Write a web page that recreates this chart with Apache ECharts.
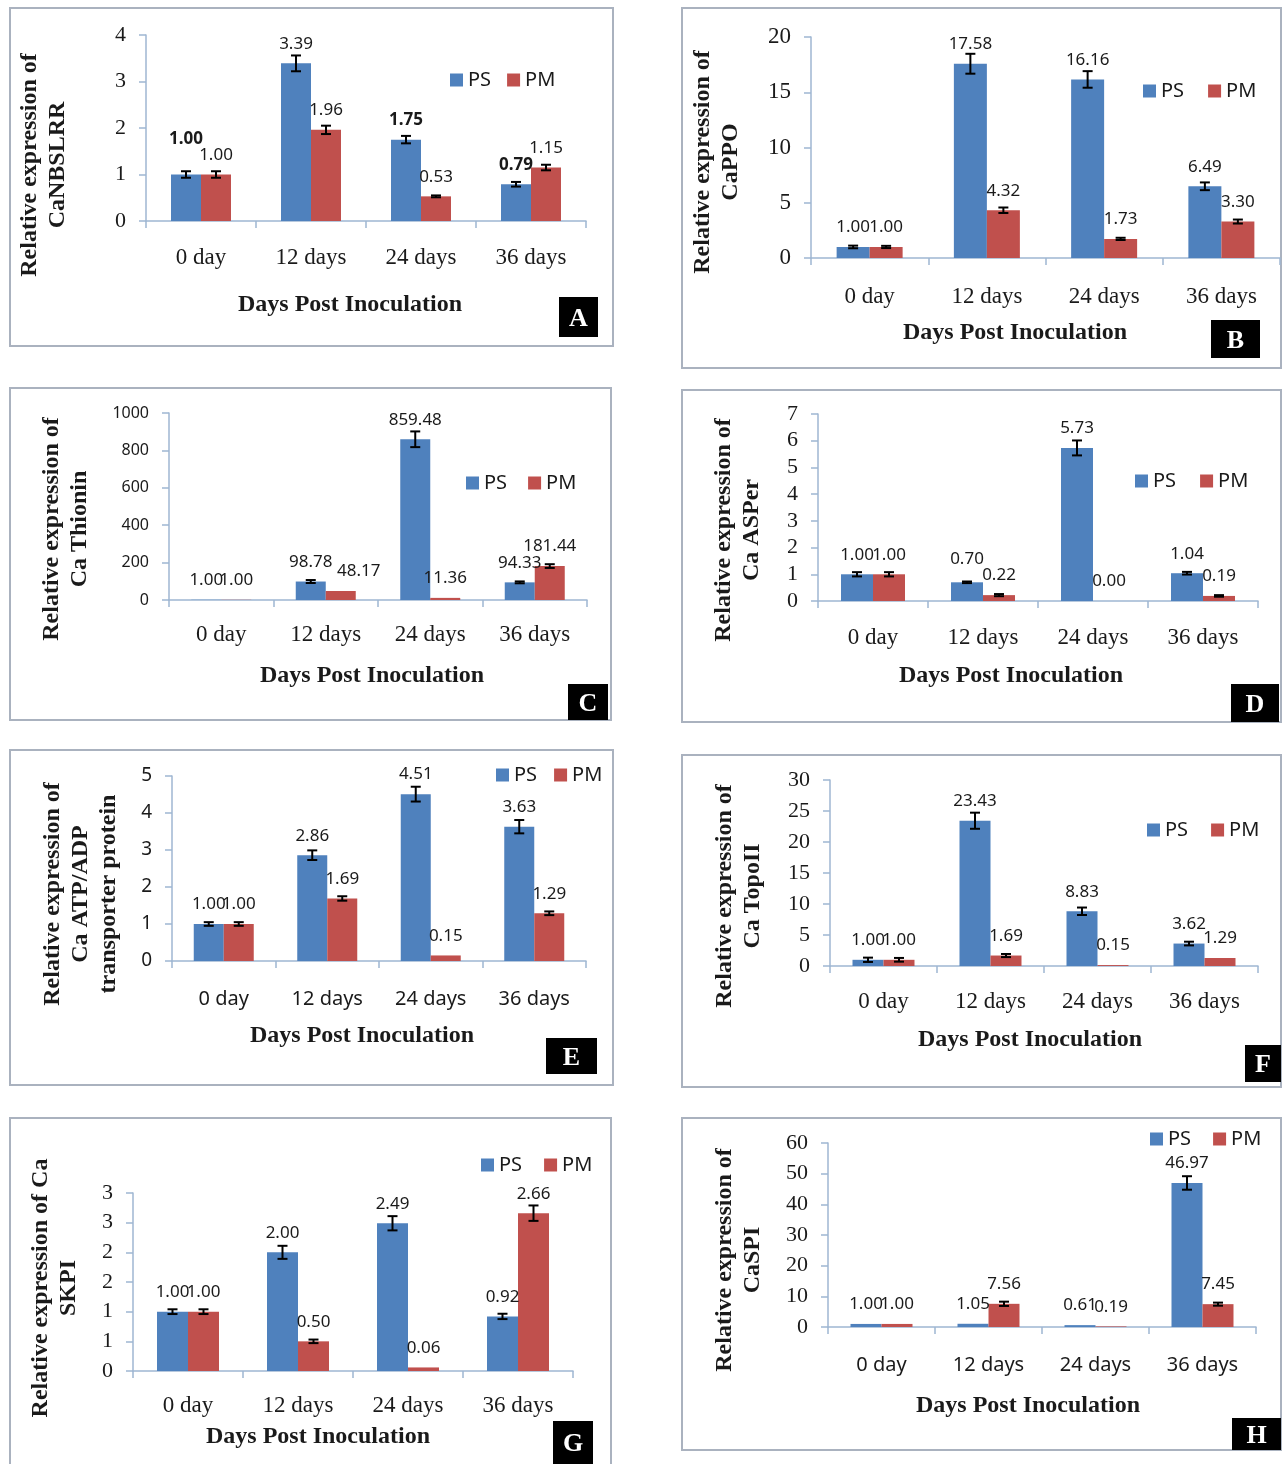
<!DOCTYPE html>
<html>
<head>
<meta charset="utf-8">
<script src="https://cdn.jsdelivr.net/npm/echarts@6/dist/echarts.min.js"></script>
<style>
html,body{margin:0;padding:0;background:#fff;}
#chart{width:1283px;height:1464px;}
</style>
</head>
<body>
<div id="chart"></div>
<script>
// ---------------- DATA ----------------
const categories = ['0 day', '12 days', '24 days', '36 days'];
const seriesNames = ['PS', 'PM'];

const psA = [1.00, 3.39, 1.75, 0.79];
const pmA = [1.00, 1.96, 0.53, 1.15];
const psErrA = [0.07, 0.17, 0.08, 0.05];
const pmErrA = [0.07, 0.09, 0.02, 0.06];

const psB = [1.00, 17.58, 16.16, 6.49];
const pmB = [1.00, 4.32, 1.73, 3.30];
const psErrB = [0.12, 0.9, 0.75, 0.35];
const pmErrB = [0.10, 0.25, 0.10, 0.18];

const psC = [1.00, 98.78, 859.48, 94.33];
const pmC = [1.00, 48.17, 11.36, 181.44];
const psErrC = [0, 8, 42, 5];
const pmErrC = [0, 0, 0, 10];

const psD = [1.00, 0.70, 5.73, 1.04];
const pmD = [1.00, 0.22, 0.00, 0.19];
const psErrD = [0.08, 0.03, 0.28, 0.05];
const pmErrD = [0.08, 0.04, 0, 0.03];

const psE = [1.00, 2.86, 4.51, 3.63];
const pmE = [1.00, 1.69, 0.15, 1.29];
const psErrE = [0.05, 0.13, 0.20, 0.18];
const pmErrE = [0.05, 0.06, 0, 0.05];

const psF = [1.00, 23.43, 8.83, 3.62];
const pmF = [1.00, 1.69, 0.15, 1.29];
const psErrF = [0.35, 1.3, 0.6, 0.3];
const pmErrF = [0.30, 0.25, 0, 0];

const psG = [1.00, 2.00, 2.49, 0.92];
const pmG = [1.00, 0.50, 0.06, 2.66];
const psErrG = [0.04, 0.11, 0.12, 0.045];
const pmErrG = [0.04, 0.03, 0, 0.13];

const psH = [1.00, 1.05, 0.61, 46.97];
const pmH = [1.00, 7.56, 0.19, 7.45];
const psErrH = [0, 0, 0, 2.2];
const pmErrH = [0, 0.7, 0, 0.5];

const xAxisTitle = 'Days Post Inoculation';
const yTitles = {
  A: 'Relative expression of\nCaNBSLRR',
  B: 'Relative expression of\nCaPPO',
  C: 'Relative expression of\nCa Thionin',
  D: 'Relative expression of\nCa ASPer',
  E: 'Relative expression of\nCa ATP/ADP\ntransporter protein',
  F: 'Relative expression of\nCa TopoII',
  G: 'Relative expression of Ca\nSKPI',
  H: 'Relative expression of\nCaSPI'
};
// y-axis scales (max, interval)
const yScales = {
  A: [4, 1], B: [20, 5], C: [1000, 200], D: [7, 1],
  E: [5, 1], F: [30, 5], G: [3, 0.5], H: [60, 10]
};

// ---------------- LAYOUT / STYLE ----------------
const SERIF = '"Liberation Serif", "Times New Roman", serif';
const SANS = '"Noto Sans", "Liberation Sans", sans-serif';
const BLUE = '#4f81bd';
const RED = '#c0504d';
const AXIS = '#9fb6d2';
const TXT = '#1a1a1a';

const layout = {
  A: {box:[10,8,603,338], grid:[146,35,440,186], bw:30, yFont:SERIF, yFs:22, xFont:SERIF, xFs:23, xm:25,
      legend:[450,80,16], title:[350,305], yT:[44,165], letter:[559,297,39,40]},
  B: {box:[682,8,599,360], grid:[811,37,469,221], bw:33, yFont:SERIF, yFs:23, xFont:SERIF, xFs:23, xm:27,
      legend:[1143,91,24], title:[1015,333], yT:[717,162], letter:[1211,320,49,38]},
  C: {box:[10,388,601,332], grid:[169,413,418,187], bw:30, yFont:SANS, yFs:16, xFont:SERIF, xFs:23, xm:23,
      legend:[466,483,21], title:[372,676], yT:[66,529], letter:[568,684,40,36]},
  D: {box:[682,390,599,332], grid:[818,414,440,187], bw:32, yFont:SERIF, yFs:22, xFont:SERIF, xFs:23, xm:25,
      legend:[1135,481,24], title:[1011,676], yT:[738,530], letter:[1231,684,48,38]},
  E: {box:[10,750,603,335], grid:[172,776,414,185], bw:30, yFont:SANS, yFs:19, xFont:SANS, xFs:20, xm:28,
      legend:[496,775,17], title:[362,1036], yT:[81,894], letter:[546,1038,51,36]},
  F: {box:[682,755,599,332], grid:[830,780,428,186], bw:31, yFont:SERIF, yFs:22, xFont:SERIF, xFs:23, xm:24,
      legend:[1147,830,23], title:[1030,1040], yT:[739,896], letter:[1245,1045,36,37]},
  G: {box:[10,1118,601,350], grid:[133,1193,440,178], bw:31, yFont:SERIF, yFs:22, xFont:SERIF, xFs:23, xm:23,
      legend:[481,1165,22], title:[318,1437], yT:[55,1288], letter:[553,1421,40,43]},
  H: {box:[682,1118,599,332], grid:[828,1143,428,184], bw:31, yFont:SERIF, yFs:22, xFont:SANS, xFs:20, xm:28,
      legend:[1150,1139,22], title:[1028,1406], yT:[739,1260], letter:[1232,1418,49,32]}
};

// special label styling
const labelTweaks = {
  A: {PS: {0: {fontWeight:'bold', distance:27}, 2: {fontWeight:'bold'}, 3: {fontWeight:'bold'}}},
  C: {PM: {1: {offset:[18, 0]}}},
  D: {PS: {1: {distance:15}}}
};

const panelData = {
  A: [psA, pmA, psErrA, pmErrA], B: [psB, pmB, psErrB, pmErrB],
  C: [psC, pmC, psErrC, pmErrC], D: [psD, pmD, psErrD, pmErrD],
  E: [psE, pmE, psErrE, pmErrE], F: [psF, pmF, psErrF, pmErrF],
  G: [psG, pmG, psErrG, pmErrG], H: [psH, pmH, psErrH, pmErrH]
};

// ---------------- BUILD ----------------
const grids = [], xAxes = [], yAxes = [], series = [], legends = [], graphics = [];

function errRender(sign, bw) {
  return function (params, api) {
    const i = api.value(0), v = api.value(1), e = api.value(2);
    if (!e) return null;
    const top = api.coord([i, v + e]);
    const bot = api.coord([i, v - e]);
    const x = top[0] + sign * bw / 2;
    const cap = 5;
    const st = {stroke:'#000', lineWidth:2};
    return {type:'group', children:[
      {type:'line', shape:{x1:x, y1:top[1], x2:x, y2:bot[1]}, style:st},
      {type:'line', shape:{x1:x-cap, y1:top[1], x2:x+cap, y2:top[1]}, style:st},
      {type:'line', shape:{x1:x-cap, y1:bot[1], x2:x+cap, y2:bot[1]}, style:st}
    ]};
  };
}

Object.keys(layout).forEach(function (key, idx) {
  const L = layout[key];
  const [ps, pm, psErr, pmErr] = panelData[key];
  const [ymax, yint] = yScales[key];

  // panel border
  graphics.push({type:'rect', shape:{x:L.box[0], y:L.box[1], width:L.box[2], height:L.box[3]},
    style:{fill:'#fff', stroke:'#aab2bf', lineWidth:2}, z:-10});

  grids.push({left:L.grid[0], top:L.grid[1], width:L.grid[2], height:L.grid[3], containLabel:false});

  xAxes.push({type:'category', gridIndex:idx, data:categories,
    axisLine:{lineStyle:{color:AXIS, width:1.5}},
    axisTick:{show:true, length:7, lineStyle:{color:AXIS, width:1.5}},
    axisLabel:{fontFamily:L.xFont, fontSize:L.xFs, color:TXT, margin:L.xm}
  });

  yAxes.push({type:'value', gridIndex:idx, min:0, max:ymax, interval:yint,
    splitLine:{show:false},
    axisLine:{show:true, lineStyle:{color:AXIS, width:1.5}},
    axisTick:{show:true, length:7, lineStyle:{color:AXIS, width:1.5}},
    axisLabel:{fontFamily:L.yFont, fontSize:L.yFs, color:TXT, margin:20,
      formatter: key === 'G' ? function (v) { return String(Math.round(v)); }
                             : function (v) { return String(v); }}
  });

  [[ps, psErr, BLUE, 'PS', -1], [pm, pmErr, RED, 'PM', 1]].forEach(function (s) {
    const [vals, errs, color, name, sign] = s;
    const tw = (labelTweaks[key] && labelTweaks[key][name]) || {};
    series.push({
      type:'bar', name:name, xAxisIndex:idx, yAxisIndex:idx,
      barWidth:L.bw, barGap:'0%',
      itemStyle:{color:color},
      data: vals.map(function (v, i) {
        return tw[i] ? {value:v, label:tw[i]} : v;
      }),
      label:{show:true, position:'top', distance:11, color:TXT,
        fontFamily:SANS, fontSize:17,
        formatter:function (p) { return Number(p.value).toFixed(2); }},
      z:2
    });
    series.push({
      type:'custom', name:name + ' error', xAxisIndex:idx, yAxisIndex:idx,
      renderItem: errRender(sign, L.bw),
      encode:{x:0, y:1},
      data: vals.map(function (v, i) { return [i, v, errs[i]]; }),
      z:5, silent:true
    });
  });

  // legend
  legends.push({
    data: seriesNames, orient:'horizontal', left:L.legend[0], top:L.legend[1] - 10,
    itemWidth:13, itemHeight:13, itemGap:L.legend[2], padding:0, icon:'rect',
    textStyle:{fontFamily:SANS, fontSize:20, color:TXT},
    selectedMode:false
  });

  // x axis title
  graphics.push({type:'text', x:L.title[0], y:L.title[1],
    style:{text:xAxisTitle, font:'bold 24px ' + SERIF, fill:TXT, align:'center', verticalAlign:'middle'}, z:10});

  // y axis title (rotated)
  graphics.push({type:'text', x:L.yT[0], y:L.yT[1], rotation:Math.PI / 2,
    style:{text:yTitles[key], font:'bold 24px ' + SERIF, fill:TXT, align:'center', verticalAlign:'middle', lineHeight:28}, z:10});

  // panel letter
  graphics.push({type:'rect', shape:{x:L.letter[0], y:L.letter[1], width:L.letter[2], height:L.letter[3]},
    style:{fill:'#000'}, z:10});
  graphics.push({type:'text', x:L.letter[0] + L.letter[2] / 2, y:L.letter[1] + L.letter[3] / 2 + 2,
    style:{text:key, font:'bold 26px ' + SERIF, fill:'#fff', align:'center', verticalAlign:'middle'}, z:11});
});

const chart = echarts.init(document.getElementById('chart'), null, {renderer:'canvas'});
chart.setOption({
  animation:false,
  backgroundColor:'#fff',
  grid:grids, xAxis:xAxes, yAxis:yAxes, series:series, legend:legends,
  graphic:{elements:graphics}
});
</script>
</body>
</html>
